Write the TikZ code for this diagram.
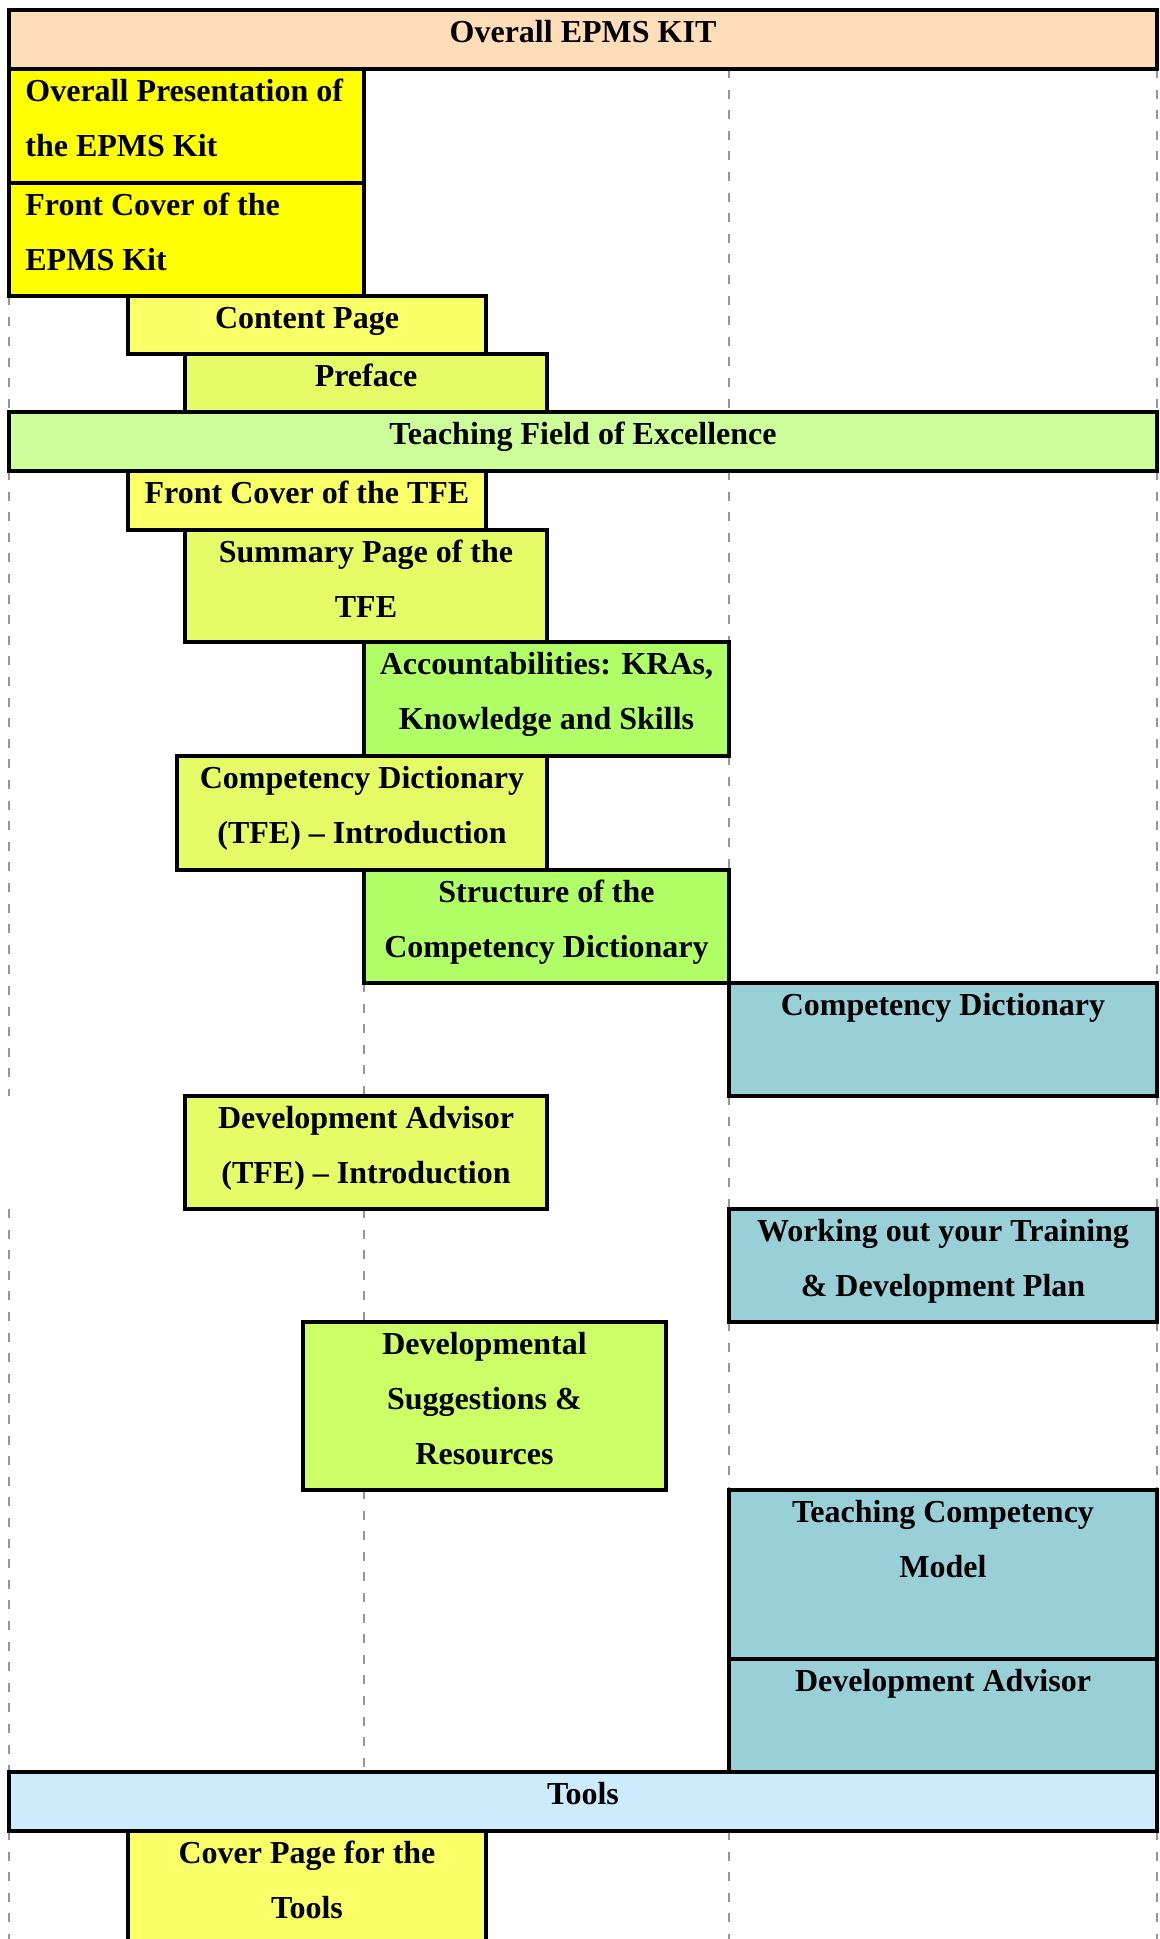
\documentclass[tikz,border=0pt]{standalone}
\usepackage{fontspec}
\setmainfont{Liberation Serif}
\usetikzlibrary{fit}
\definecolor{peach}{HTML}{FFDDB9}
\definecolor{yel}{HTML}{FFFF00}
\definecolor{lyel}{HTML}{F9FF66}
\definecolor{ygreen}{HTML}{E6FC66}
\definecolor{lgreen}{HTML}{B0FF66}
\definecolor{dgreen}{HTML}{CCFF66}
\definecolor{tfebar}{HTML}{CCFF99}
\definecolor{tealbox}{HTML}{99CFD6}
\definecolor{toolsbar}{HTML}{CCEBFC}
\definecolor{guidegray}{HTML}{969696}
\begin{document}
\begin{tikzpicture}[x=0.5pt,y=-0.5pt,
  box/.style={draw=black, line width=1.6pt, inner sep=0pt, outer sep=0pt},
  bar/.style={box, line width=2pt},
  txt/.style={inner sep=0pt, anchor=north, align=center, font=\fontsize{16pt}{27.5pt}\selectfont\bfseries},
  ltxt/.style={txt, anchor=north west, align=left},
  guide/.style={draw=guidegray, line width=1.2pt, dash pattern=on 4.5pt off 5.8pt}]
\path[use as bounding box, fill=white] (0,0) rectangle (1160,1939);

% named coordinates for guide line ends
\coordinate (gl1) at (9,1096);
\coordinate (gl2) at (9,1209);
\coordinate (gl3) at (9,1939);
\coordinate (gm1) at (364,1096);
\coordinate (gm2) at (364,1209);
\coordinate (gm3) at (364,1322);
\coordinate (gm4) at (364,1490);
\coordinate (gm5) at (364,1772);
\coordinate (gc1) at (729,69);
\coordinate (gc2) at (729,412);
\coordinate (gc3) at (729,471);
\coordinate (gc4) at (729,1831);
\coordinate (gc5) at (729,1939);
\coordinate (gr1) at (1157,1939);

% guide lines (behind the boxes)
\draw[guide] (9,296) -- (9,412);
\draw[guide] (9,471) -- (gl1);
\draw[guide] (gl2) -- (9,1772);
\draw[guide] (9,1831) -- (gl3);
\draw[guide] (364,983) -- (gm1);
\draw[guide] (gm2) -- (gm3);
\draw[guide] (gm4) -- (gm5);
\draw[guide] (gc1) -- (gc2);
\draw[guide] (gc3) -- (729,642);
\draw[guide] (729,756) -- (729,870);
\draw[guide] (729,1096) -- (729,1209);
\draw[guide] (729,1322) -- (729,1490);
\draw[guide] (gc4) -- (gc5);
\draw[guide] (1157,69) -- (1157,412);
\draw[guide] (1157,471) -- (1157,983);
\draw[guide] (1157,1096) -- (1157,1209);
\draw[guide] (1157,1322) -- (1157,1490);
\draw[guide] (1157,1831) -- (gr1);

% boxes
\node[bar, fill=peach, fit={(9,10) (1157,69)}] (top) {};
\node[box, fill=yel, fit={(9,69) (364,183)}] (op) {};
\node[box, fill=yel, fit={(9,183) (364,296)}] (fce) {};
\node[box, fill=lyel, fit={(128,296) (486,354)}] (cp) {};
\node[box, fill=ygreen, fit={(185,354) (547,412)}] (pre) {};
\node[bar, fill=tfebar, fit={(9,412) (1157,471)}] (tfe) {};
\node[box, fill=lyel, fit={(128,471) (486,530)}] (fct) {};
\node[box, fill=ygreen, fit={(185,530) (547,642)}] (sp) {};
\node[box, fill=lgreen, fit={(364,642) (729,756)}] (acc) {};
\node[box, fill=ygreen, fit={(177,756) (547,870)}] (cdt) {};
\node[box, fill=lgreen, fit={(364,870) (729,983)}] (str) {};
\node[box, fill=tealbox, fit={(729,983) (1157,1096)}] (cd) {};
\node[box, fill=ygreen, fit={(185,1096) (547,1209)}] (dat) {};
\node[box, fill=tealbox, fit={(729,1209) (1157,1322)}] (wo) {};
\node[box, fill=dgreen, fit={(303,1322) (666,1490)}] (ds) {};
\node[box, fill=tealbox, fit={(729,1490) (1157,1659)}] (tcm) {};
\node[box, fill=tealbox, fit={(729,1659) (1157,1772)}] (da) {};
\node[bar, fill=toolsbar, fit={(9,1772) (1157,1831)}] (tools) {};
\node[box, fill=lyel, fit={(128,1831) (486,1970)}] (cvp) {};

% texts
\node[txt] (top-t) at (top.north) {\rule{0pt}{16pt}Overall EPMS KIT};
\node[ltxt] (op-t) at ([xshift=8pt]op.north west) {\rule{0pt}{16pt}Overall Presentation of\\the EPMS Kit};
\node[ltxt] (fce-t) at ([xshift=8pt]fce.north west) {\rule{0pt}{16pt}Front Cover of the\\EPMS Kit};
\node[txt] (cp-t) at (cp.north) {\rule{0pt}{16pt}Content Page};
\node[txt] (pre-t) at (pre.north) {\rule{0pt}{16pt}Preface};
\node[txt] (tfe-t) at (tfe.north) {\rule{0pt}{16pt}Teaching Field of Excellence};
\node[txt] (fct-t) at (fct.north) {\rule{0pt}{16pt}Front Cover of the TFE};
\node[txt] (sp-t) at (sp.north) {\rule{0pt}{16pt}Summary Page of the\\TFE};
\node[txt] (acc-t) at (acc.north) {\rule{0pt}{16pt}Accountabilities: KRAs,\\Knowledge and Skills};
\node[txt] (cdt-t) at (cdt.north) {\rule{0pt}{16pt}Competency Dictionary\\(TFE) -- Introduction};
\node[txt] (str-t) at (str.north) {\rule{0pt}{16pt}Structure of the\\Competency Dictionary};
\node[txt] (cd-t) at (cd.north) {\rule{0pt}{16pt}Competency Dictionary};
\node[txt] (dat-t) at (dat.north) {\rule{0pt}{16pt}Development Advisor\\(TFE) -- Introduction};
\node[txt] (wo-t) at (wo.north) {\rule{0pt}{16pt}Working out your Training\\\& Development Plan};
\node[txt] (ds-t) at (ds.north) {\rule{0pt}{16pt}Developmental\\Suggestions \&\\Resources};
\node[txt] (tcm-t) at (tcm.north) {\rule{0pt}{16pt}Teaching Competency\\Model};
\node[txt] (da-t) at (da.north) {\rule{0pt}{16pt}Development Advisor};
\node[txt] (tools-t) at (tools.north) {\rule{0pt}{16pt}Tools};
\node[txt] (cvp-t) at (cvp.north) {\rule{0pt}{16pt}Cover Page for the\\Tools};
\end{tikzpicture}
\end{document}
